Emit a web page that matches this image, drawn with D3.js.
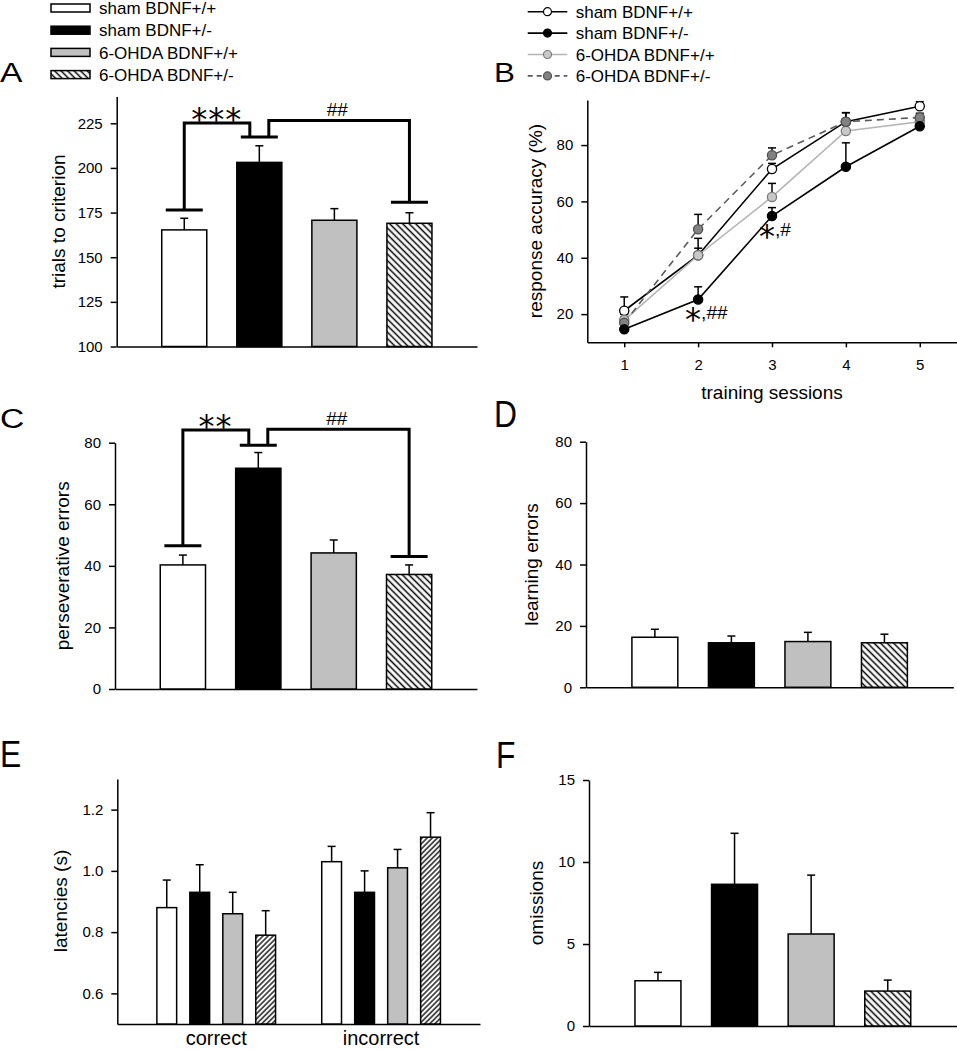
<!DOCTYPE html>
<html>
<head>
<meta charset="utf-8">
<script src="https://cdn.jsdelivr.net/npm/d3@7"></script>
<style>
  body { margin: 0; background: #fff; }
  text { font-family: "Liberation Sans", Arial, Helvetica, sans-serif; fill: #000; }
</style>
</head>
<body>
<svg id="fig" width="957" height="1050"></svg>
<script>
// ---- data ----
var groups = ["sham BDNF+/+", "sham BDNF+/-", "6-OHDA BDNF+/+", "6-OHDA BDNF+/-"];

// A: trials to criterion
var trialsMean = [165.3, 203.1, 170.7, 169.0];
var trialsSem  = [6.5, 9.3, 6.5, 5.9];
var trialsTicks = [100, 125, 150, 175, 200, 225];

// B: response accuracy per session
var sessions = [1, 2, 3, 4, 5];
var accShamWt     = [21.2, 40.9, 71.5, 88.3, 93.8];
var accShamWtSem  = [4.9, 6.0, 2.0, 3.2, 1.6];
var accShamHet    = [14.6, 25.2, 54.8, 72.3, 86.7];
var accShamHetSem = [1.5, 4.5, 3.0, 8.5, 1.0];
var accOhdaWt     = [17.9, 40.9, 61.6, 85.0, 88.3];
var accOhdaWtSem  = [2.0, 2.5, 4.8, 2.5, 1.5];
var accOhdaHet    = [16.9, 50.1, 76.4, 88.3, 89.8];
var accOhdaHetSem = [2.0, 5.3, 2.6, 3.2, 1.5];
var accTicks = [20, 40, 60, 80];

// C: perseverative errors
var persevMean = [40.3, 71.7, 44.2, 37.2];
var persevSem  = [3.2, 5.1, 4.2, 3.1];
// D: learning errors
var learnMean = [16.3, 14.5, 14.9, 14.5];
var learnSem  = [2.6, 2.2, 3.0, 2.8];
var errorTicks = [0, 20, 40, 60, 80];

// E: latencies
var latencyCats = ["correct", "incorrect"];
var latCorrectMean   = [0.88, 0.93, 0.86, 0.79];
var latCorrectSem    = [0.09, 0.09, 0.07, 0.08];
var latIncorrectMean = [1.03, 0.93, 1.01, 1.11];
var latIncorrectSem  = [0.05, 0.07, 0.06, 0.08];
var latTicks = [0.6, 0.8, 1.0, 1.2];

// F: omissions
var omitMean = [2.76, 8.64, 5.61, 2.13];
var omitSem  = [0.51, 3.11, 3.59, 0.67];
var omitTicks = [0, 5, 10, 15];

var svg = d3.select('#fig');
svg.append('rect').attr('width', 957).attr('height', 1050).attr('fill', '#fff');

// hatch patterns
var defs = svg.append('defs');
function hatch(id, w, angle, sw) {
  var p = defs.append('pattern')
    .attr('id', id)
    .attr('patternUnits', 'userSpaceOnUse')
    .attr('width', w).attr('height', 20)
    .attr('patternTransform', 'rotate(' + angle + ')');
  p.append('rect').attr('width', w).attr('height', 20).attr('fill', '#fff');
  p.append('line').attr('x1', w / 2).attr('x2', w / 2).attr('y1', 0).attr('y2', 20)
    .attr('stroke', '#000').attr('stroke-width', sw);
}
hatch('hatchBack', 4.6, -45, 1.5);
hatch('hatchFwd', 3.6, 45, 1.3);

var barFill = ['#fff', '#000', '#c0c0c0', 'url(#hatchBack)'];

function panelLetter(t, x, y, size, sx) {
  svg.append('text')
    .attr('transform', 'translate(' + x + ',' + y + ') scale(' + sx + ',1)')
    .style('font-size', size + 'px')
    .text(t);
}

function yTitle(t, x, yMid) {
  svg.append('text')
    .attr('transform', 'translate(' + x + ',' + yMid + ') rotate(-90)')
    .attr('text-anchor', 'middle')
    .attr('dy', '0.35em')
    .style('font-size', '19px')
    .text(t);
}

function styleAxis(g) {
  g.selectAll('.domain').attr('stroke', '#000').attr('stroke-width', 1.5);
  g.selectAll('.tick line').attr('stroke', '#000').attr('stroke-width', 1.5);
  g.selectAll('.tick text').style('font-size', '15px').attr('fill', '#000')
    .style('font-family', '"Liberation Sans", Arial, sans-serif');
}

function errBars(g, xs, ys, means, sems, capW) {
  g.selectAll(null).data(means).enter().append('line')
    .attr('x1', function(d, i) { return xs(i); })
    .attr('x2', function(d, i) { return xs(i); })
    .attr('y1', function(d) { return ys(d); })
    .attr('y2', function(d, i) { return ys(d + sems[i]); })
    .attr('stroke', '#000').attr('stroke-width', 1.5);
  g.selectAll(null).data(means).enter().append('line')
    .attr('x1', function(d, i) { return xs(i) - capW / 2; })
    .attr('x2', function(d, i) { return xs(i) + capW / 2; })
    .attr('y1', function(d, i) { return ys(d + sems[i]); })
    .attr('y2', function(d, i) { return ys(d + sems[i]); })
    .attr('stroke', '#000').attr('stroke-width', 1.5);
}

// generic 4-bar panel
function barPanel(c) {
  var x = d3.scaleBand().domain(groups).range([c.left, c.right])
    .paddingInner(0.4).paddingOuter(0.6);
  var y = d3.scaleLinear().domain(c.domain).range([c.bottom, c.top]);
  var g = svg.append('g');

  var ax = g.append('g').attr('transform', 'translate(' + c.left + ',0)')
    .call(d3.axisLeft(y).tickValues(c.ticks).tickSize(6).tickPadding(8).tickSizeOuter(0));
  styleAxis(ax);
  var bx = g.append('g').attr('transform', 'translate(0,' + c.bottom + ')')
    .call(d3.axisBottom(x).tickValues([]).tickSizeOuter(0));
  styleAxis(bx);

  errBars(g, function(i) { return x(groups[i]) + x.bandwidth() / 2; }, y, c.means, c.sems, 8);

  g.selectAll('rect.bar').data(c.means).enter().append('rect')
    .attr('class', 'bar')
    .attr('x', function(d, i) { return x(groups[i]); })
    .attr('width', x.bandwidth())
    .attr('y', function(d) { return y(d); })
    .attr('height', function(d) { return c.bottom - y(d); })
    .attr('fill', function(d, i) { return barFill[i]; })
    .attr('stroke', '#000').attr('stroke-width', 1.5);

  yTitle(c.title, c.left - c.titleOff, (c.top + c.bottom) / 2);
  return { x: x, y: y };
}

// significance bracket: group 0 vs group 1, group 1 vs group 3
function brackets(s, lv, starTxt) {
  var cx = function(i) { return s.x(groups[i]) + s.x.bandwidth() / 2; };
  var tw = 37, gap = 9.5;
  var g = svg.append('g').attr('fill', 'none').attr('stroke', '#000').attr('stroke-width', 3);
  var line = d3.line();
  g.append('path').attr('d', line([
    [cx(0), s.y(lv.leftLow)], [cx(0), s.y(lv.leftTop)],
    [cx(1) - gap, s.y(lv.leftTop)], [cx(1) - gap, s.y(lv.mid)]]));
  g.append('path').attr('d', line([
    [cx(1) + gap, s.y(lv.mid)], [cx(1) + gap, s.y(lv.rightTop)],
    [cx(3), s.y(lv.rightTop)], [cx(3), s.y(lv.rightLow)]]));
  [[0, lv.leftLow], [1, lv.mid], [3, lv.rightLow]].forEach(function(t) {
    g.append('line')
      .attr('x1', cx(t[0]) - tw / 2).attr('x2', cx(t[0]) + tw / 2)
      .attr('y1', s.y(t[1])).attr('y2', s.y(t[1]));
  });
  svg.append('text')
    .attr('x', (cx(0) + cx(1)) / 2 - 5)
    .attr('y', s.y(lv.leftTop) + 7)
    .attr('text-anchor', 'middle')
    .style('font-family', '"DejaVu Sans", sans-serif')
    .style('font-size', '32px')
    .style('letter-spacing', '1px')
    .text(starTxt);
  svg.append('text')
    .attr('x', (cx(1) + cx(3)) / 2 + 3)
    .attr('y', s.y(lv.rightTop) - 4)
    .attr('text-anchor', 'middle')
    .style('font-size', '19px')
    .text('##');
}

// ---- legend A ----
var legA = svg.append('g');
groups.forEach(function(name, i) {
  var yc = 8 + i * 22.2;
  legA.append('rect').attr('x', 51).attr('y', yc - 4).attr('width', 39).attr('height', 8)
    .attr('fill', barFill[i]).attr('stroke', '#000').attr('stroke-width', 1.5);
  legA.append('text').attr('x', 99).attr('y', yc).attr('dy', '0.36em')
    .style('font-size', '17px').text(name);
});

// ---- A ----
panelLetter('A', 0, 82, 28, 1.2);
var sA = barPanel({ left: 116.7, right: 477, bottom: 346.5, top: 96.5, domain: [100, 240],
  ticks: trialsTicks, means: trialsMean, sems: trialsSem,
  title: 'trials to criterion', titleOff: 58 });
brackets(sA, { leftLow: 176.5, leftTop: 225.2, mid: 217.3, rightTop: 226.6, rightLow: 180.8 }, '***');

// ---- B ----
panelLetter('B', 494, 82, 28, 1.12);
var series = [
  { name: groups[0], v: accShamWt,  e: accShamWtSem,  line: '#000',    dash: null,  fill: '#fff',    stroke: '#000' },
  { name: groups[2], v: accOhdaWt,  e: accOhdaWtSem,  line: '#b4b4b4', dash: null,  fill: '#c8c8c8', stroke: '#7a7a7a' },
  { name: groups[3], v: accOhdaHet, e: accOhdaHetSem, line: '#5a5a5a', dash: '7,5', fill: '#828282', stroke: '#505050' },
  { name: groups[1], v: accShamHet, e: accShamHetSem, line: '#000',    dash: null,  fill: '#000',    stroke: '#000' }
];
var xB = d3.scaleLinear().domain([0.5, 5.5]).range([587.3, 956.7]);
var yB = d3.scaleLinear().domain([10, 96]).range([342.3, 100]);
var gB = svg.append('g');
var axB = gB.append('g').attr('transform', 'translate(587.3,0)')
  .call(d3.axisLeft(yB).tickValues(accTicks).tickSize(6).tickPadding(8).tickSizeOuter(0));
styleAxis(axB);
var bxB = gB.append('g').attr('transform', 'translate(0,342.3)')
  .call(d3.axisBottom(xB).tickValues(sessions).tickFormat(d3.format('d'))
    .tickSize(5).tickPadding(12).tickSizeOuter(0));
styleAxis(bxB);
yTitle('response accuracy (%)', 587.3 - 52, 221);
gB.append('text').attr('x', 772).attr('y', 399).attr('text-anchor', 'middle')
  .style('font-size', '19px').text('training sessions');

var lineB = d3.line().x(function(d, i) { return xB(sessions[i]); }).y(function(d) { return yB(d); });
series.forEach(function(s) {
  gB.append('path').datum(s.v).attr('d', lineB)
    .attr('fill', 'none').attr('stroke', s.line).attr('stroke-width', 1.6)
    .attr('stroke-dasharray', s.dash);
});
series.forEach(function(s) {
  errBars(gB, function(i) { return xB(sessions[i]); }, yB, s.v, s.e, 8);
});
series.forEach(function(s) {
  gB.selectAll(null).data(s.v).enter().append('circle')
    .attr('cx', function(d, i) { return xB(sessions[i]); })
    .attr('cy', function(d) { return yB(d); })
    .attr('r', 4.6)
    .attr('fill', s.fill).attr('stroke', s.stroke).attr('stroke-width', 1.3);
});
// significance marks on sham BDNF+/-
function starMark(session, rest) {
  var t = gB.append('text').attr('x', xB(session) - 13).attr('y', yB(accShamHet[session - 1]) + 31);
  t.append('tspan').style('font-family', '"DejaVu Sans", sans-serif').style('font-size', '32px').text('*');
  t.append('tspan').attr('dy', -11).style('font-size', '19px').text(rest);
}
starMark(2, ',##');
starMark(3, ',#');

// legend B
var legB = svg.append('g');
[series[0], series[3], series[1], series[2]].forEach(function(s, i) {
  var yc = 11.7 + i * 21.4;
  legB.append('line').attr('x1', 527.7).attr('x2', 567.3).attr('y1', yc).attr('y2', yc)
    .attr('stroke', s.line).attr('stroke-width', 1.6).attr('stroke-dasharray', s.dash ? '5,4' : null);
  legB.append('circle').attr('cx', 547.5).attr('cy', yc).attr('r', 4)
    .attr('fill', s.fill).attr('stroke', s.stroke).attr('stroke-width', 1.2);
  legB.append('text').attr('x', 575.7).attr('y', yc).attr('dy', '0.36em')
    .style('font-size', '17px').text(s.name);
});

// ---- C ----
panelLetter('C', 0, 428, 28, 1.2);
var sC = barPanel({ left: 115, right: 477, bottom: 689, top: 442.7, domain: [0, 80],
  ticks: errorTicks, means: persevMean, sems: persevSem,
  title: 'perseverative errors', titleOff: 53 });
brackets(sC, { leftLow: 46.5, leftTop: 84.1, mid: 79.2, rightTop: 84.4, rightLow: 43.0 }, '**');

// ---- D ----
panelLetter('D', 494, 427, 37, 0.86);
barPanel({ left: 586, right: 953.3, bottom: 687.3, top: 441.7, domain: [0, 80],
  ticks: errorTicks, means: learnMean, sems: learnSem,
  title: 'learning errors', titleOff: 55 });

// ---- E ----
panelLetter('E', 0, 767, 37, 0.86);
var x0E = d3.scaleBand().domain(latencyCats).range([117.3, 480]).paddingInner(0.2).paddingOuter(0.2);
var x1E = d3.scaleBand().domain(groups).range([0, x0E.bandwidth()]).paddingInner(0.4).paddingOuter(0.2);
var yE = d3.scaleLinear().domain([0.5, 1.3]).range([1024, 779]);
var gE = svg.append('g');
var axE = gE.append('g').attr('transform', 'translate(117.3,0)')
  .call(d3.axisLeft(yE).tickValues(latTicks).tickFormat(d3.format('.1f')).tickSize(6).tickPadding(8).tickSizeOuter(0));
styleAxis(axE);
var bxE = gE.append('g').attr('transform', 'translate(0,1024)')
  .call(d3.axisBottom(x0E).tickSize(0).tickPadding(7).tickSizeOuter(0));
styleAxis(bxE);
bxE.selectAll('.tick text').style('font-size', '20px');
yTitle('latencies (s)', 117.3 - 57, 901);
var eFill = ['#fff', '#000', '#c0c0c0', 'url(#hatchFwd)'];
[[latCorrectMean, latCorrectSem], [latIncorrectMean, latIncorrectSem]].forEach(function(set, k) {
  var cat = latencyCats[k];
  var gg = gE.append('g');
  errBars(gg, function(i) { return x0E(cat) + x1E(groups[i]) + x1E.bandwidth() / 2; }, yE, set[0], set[1], 8);
  gg.selectAll('rect').data(set[0]).enter().append('rect')
    .attr('x', function(d, i) { return x0E(cat) + x1E(groups[i]); })
    .attr('width', x1E.bandwidth())
    .attr('y', function(d) { return yE(d); })
    .attr('height', function(d) { return 1024 - yE(d); })
    .attr('fill', function(d, i) { return eFill[i]; })
    .attr('stroke', '#000').attr('stroke-width', 1.5);
});

// ---- F ----
panelLetter('F', 496, 768, 37, 0.86);
barPanel({ left: 589, right: 956.7, bottom: 1026, top: 780, domain: [0, 15],
  ticks: omitTicks, means: omitMean, sems: omitSem,
  title: 'omissions', titleOff: 53 });
</script>
</body>
</html>
